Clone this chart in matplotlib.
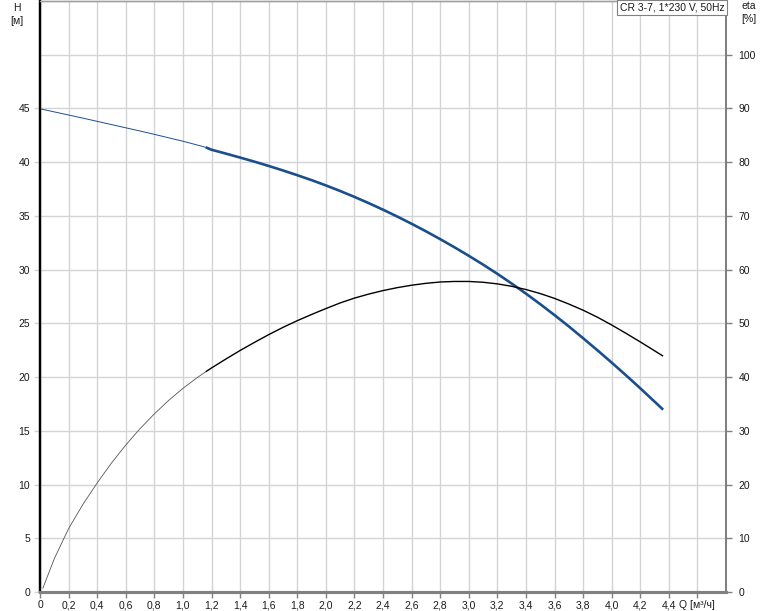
import numpy as np
import matplotlib
matplotlib.use("Agg")
import matplotlib.pyplot as plt

plt.rcParams['font.family'] = ['Liberation Sans', 'DejaVu Sans']
plt.rcParams['font.size'] = 7.5

# pump curve CR 3-7
q_h = [0, 0.1, 0.2, 0.3, 0.4, 0.5, 0.6, 0.7, 0.8, 0.9, 1.0, 1.1, 1.16, 1.2,
       1.3, 1.4, 1.5, 1.6, 1.7, 1.8, 1.9, 2.0, 2.1, 2.2, 2.3, 2.4, 2.5, 2.6,
       2.7, 2.8, 2.9, 3.0, 3.1, 3.2, 3.3, 3.4, 3.5, 3.6, 3.7, 3.8, 3.9, 4.0,
       4.1, 4.2, 4.3, 4.36]
head = [44.97, 44.68, 44.39, 44.1, 43.8, 43.5, 43.2, 42.9, 42.59, 42.27,
        41.95, 41.6, 41.38, 41.16, 40.80, 40.43, 40.05, 39.65, 39.23, 38.79,
        38.33, 37.84, 37.32, 36.77, 36.19, 35.58, 34.94, 34.27, 33.57, 32.84,
        32.08, 31.29, 30.47, 29.61, 28.71, 27.77, 26.79, 25.77, 24.72, 23.62,
        22.5, 21.35, 20.17, 18.96, 17.72, 16.97]

q_eta = [0.02, 0.1, 0.2, 0.3, 0.4, 0.5, 0.6, 0.7, 0.8, 0.9, 1.0, 1.1, 1.16,
         1.2, 1.3, 1.4, 1.5, 1.6, 1.7, 1.8, 1.9, 2.0, 2.1, 2.2, 2.3, 2.4, 2.5,
         2.6, 2.7, 2.8, 2.9, 3.0, 3.1, 3.2, 3.3, 3.4, 3.5, 3.6, 3.7, 3.8, 3.9,
         4.0, 4.1, 4.2, 4.3, 4.36]
eta = [0.7, 6.2, 11.8, 16.3, 20.3, 24.0, 27.35, 30.4, 33.15, 35.65, 37.9,
       39.9, 41.0, 41.7, 43.35, 44.95, 46.45, 47.9, 49.25, 50.5, 51.65, 52.75,
       53.8, 54.7, 55.45, 56.1, 56.65, 57.1, 57.45, 57.7, 57.8, 57.8, 57.65,
       57.35, 56.9, 56.3, 55.55, 54.65, 53.6, 52.45, 51.15, 49.7, 48.15, 46.55,
       44.9, 43.9]
q_start = 1.16  # start of the thick (operating) part

x_ticks = [0, 0.2, 0.4, 0.6, 0.8, 1.0, 1.2, 1.4, 1.6, 1.8, 2.0, 2.2, 2.4, 2.6,
           2.8, 3.0, 3.2, 3.4, 3.6, 3.8, 4.0, 4.2, 4.4, 4.6]
h_ticks = [0, 5, 10, 15, 20, 25, 30, 35, 40, 45, 50]
eta_ticks = [0, 10, 20, 30, 40, 50, 60, 70, 80, 90, 100]
title = "CR 3-7, 1*230 V, 50Hz"

q_h = np.array(q_h)
head = np.array(head)
q_eta = np.array(q_eta)
eta = np.array(eta)

blue = '#1b4f8c'
grid_c = '#d2d4d6'
gray = '#808080'
txt = '#1a1a1a'

fig = plt.figure(figsize=(7.74, 6.11), dpi=100)
ax = fig.add_axes([40 / 774, 19 / 611, 686 / 774, 591 / 611])
ax2 = ax.twinx()

ax.plot(q_h[q_h <= q_start], head[q_h <= q_start], color=blue, lw=0.7)
ax.plot(q_h[q_h >= q_start], head[q_h >= q_start], color=blue, lw=1.9,
        solid_capstyle='butt')
ax2.plot(q_eta[q_eta <= q_start], eta[q_eta <= q_start], color='#555555', lw=0.6)
ax2.plot(q_eta[q_eta >= q_start], eta[q_eta >= q_start], color='black', lw=1.0,
         solid_capstyle='butt')

ax.set_xlim(0, 4.8)
ax.set_ylim(0, 55)
ax2.set_ylim(0, 110)

ax.set_xticks(x_ticks)
ax.set_xticklabels([f"{t:.1f}".replace('.', ',') if t > 0 else "0" for t in x_ticks[:-1]]
                   + ["Q [м³/ч]"])
ax.set_yticks(h_ticks)
ax.set_yticklabels([str(t) for t in h_ticks[:-1]] + [""])
ax.yaxis.get_major_ticks()[-1].tick1line.set_visible(False)
ax2.set_yticks(eta_ticks)

ax.grid(True, color=grid_c, lw=1.0)
ax.set_axisbelow(True)

ax.tick_params(axis='x', length=4, width=1, color=gray, pad=2, labelcolor=txt)
ax.tick_params(axis='y', length=4, width=1, color=grid_c, pad=3, labelcolor=txt)
ax2.tick_params(axis='y', length=4, width=1, color=gray, pad=5, labelcolor=txt)

for a in (ax, ax2):
    a.spines['left'].set_color('black')
    a.spines['left'].set_linewidth(1.6)
    a.spines['bottom'].set_color(gray)
    a.spines['bottom'].set_linewidth(2.2)
    a.spines['right'].set_color(gray)
    a.spines['right'].set_linewidth(1.4)
    a.spines['top'].set_color('#a0a0a0')
    a.spines['top'].set_linewidth(1.0)

fig.text(17 / 774, 1 - 8 / 611, "H", ha='center', va='center', color=txt)
fig.text(17 / 774, 1 - 21 / 611, "[м]", ha='center', va='center', color=txt)
fig.text(749 / 774, 1 - 6 / 611, "eta", ha='center', va='center', color=txt)
fig.text(749 / 774, 1 - 19 / 611, "[%]", ha='center', va='center', color=txt)

ax2.text(0.998, 0.997, title, transform=ax.transAxes, ha='right', va='top',
         color=txt,
         bbox=dict(boxstyle='square,pad=0.25', fc='white', ec=gray, lw=0.8))

fig.savefig("out.png", dpi=100)
